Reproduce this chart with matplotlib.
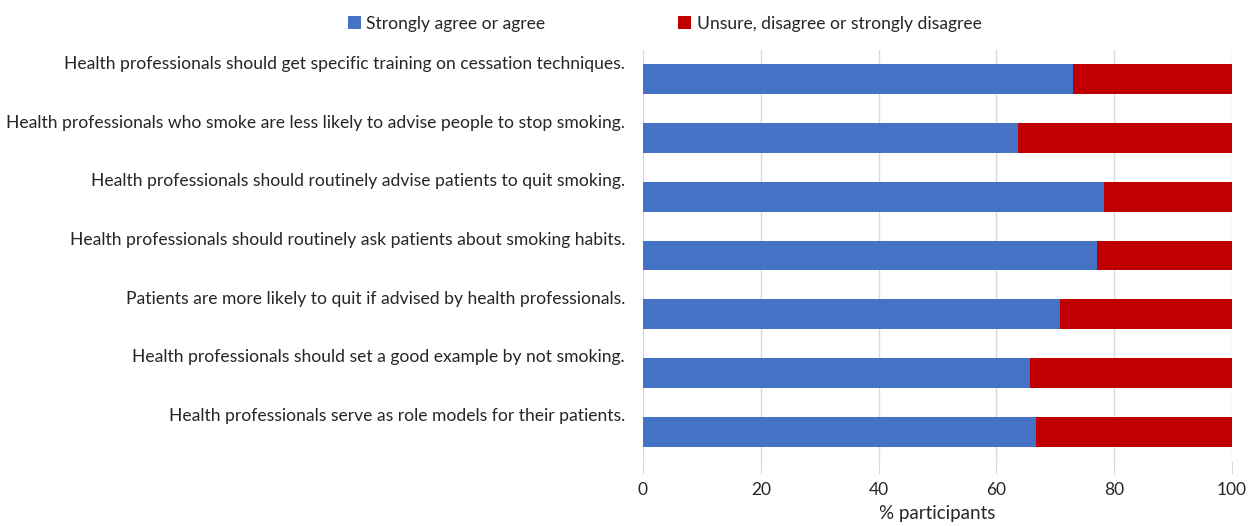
import matplotlib
matplotlib.use("Agg")
import matplotlib.pyplot as plt
import matplotlib.transforms as mtransforms
import numpy as np

statements = [
    "Health professionals should get specific training on cessation techniques.",
    "Health professionals who smoke are less likely to advise people to stop smoking.",
    "Health professionals should routinely advise patients to quit smoking.",
    "Health professionals should routinely ask patients about smoking habits.",
    "Patients are more likely to quit if advised by health professionals.",
    "Health professionals should set a good example by not smoking.",
    "Health professionals serve as role models for their patients.",
]
agree = [73.0, 63.6, 78.2, 77.1, 70.8, 65.7, 66.8]
disagree = [100 - a for a in agree]
series_names = ["Strongly agree or agree", "Unsure, disagree or strongly disagree"]
x_ticks = [0, 20, 40, 60, 80, 100]

plt.rcParams["font.family"] = ["Lato", "DejaVu Sans"]
text_color = "#262626"

fig = plt.figure(figsize=(12.55, 5.26), dpi=100)
ax = fig.add_axes([643 / 1255, 1 - 461 / 526, 589 / 1255, 411 / 526])

y = np.arange(len(statements))
ax.barh(y, agree, height=0.51, color="#4472C4", label=series_names[0], zorder=3)
ax.barh(y, disagree, left=agree, height=0.51, color="#C00000", label=series_names[1], zorder=3)

ax.set_ylim(len(statements) - 0.5, -0.5)
ax.set_xlim(0, 100)
ax.set_xticks(x_ticks)
ax.set_yticks(y)
ax.set_yticklabels(statements, fontsize=12.6, color=text_color)
ax.tick_params(axis="y", length=0, pad=13)
ax.tick_params(axis="x", length=9, color="#d9d9d9", labelsize=12.5, labelcolor=text_color, pad=6)
ax.grid(axis="x", color="#d9d9d9", linewidth=1, zorder=0)
for s in ax.spines.values():
    s.set_visible(False)
ax.set_xlabel("% participants", fontsize=13.5, color=text_color, labelpad=5)

# category labels sit a bit above the bar centres, as in the original
shift = mtransforms.ScaledTranslation(0, 0.17, fig.dpi_scale_trans)
for lab in ax.get_yticklabels():
    lab.set_transform(lab.get_transform() + shift)

fig.legend(loc="upper center", bbox_to_anchor=(0.5295, 1.0), ncol=2, frameon=False,
           fontsize=12.6, handlelength=0.75, handleheight=0.75, handletextpad=0.3,
           columnspacing=7.6, labelcolor=text_color)

fig.savefig("out.png", dpi=100)
